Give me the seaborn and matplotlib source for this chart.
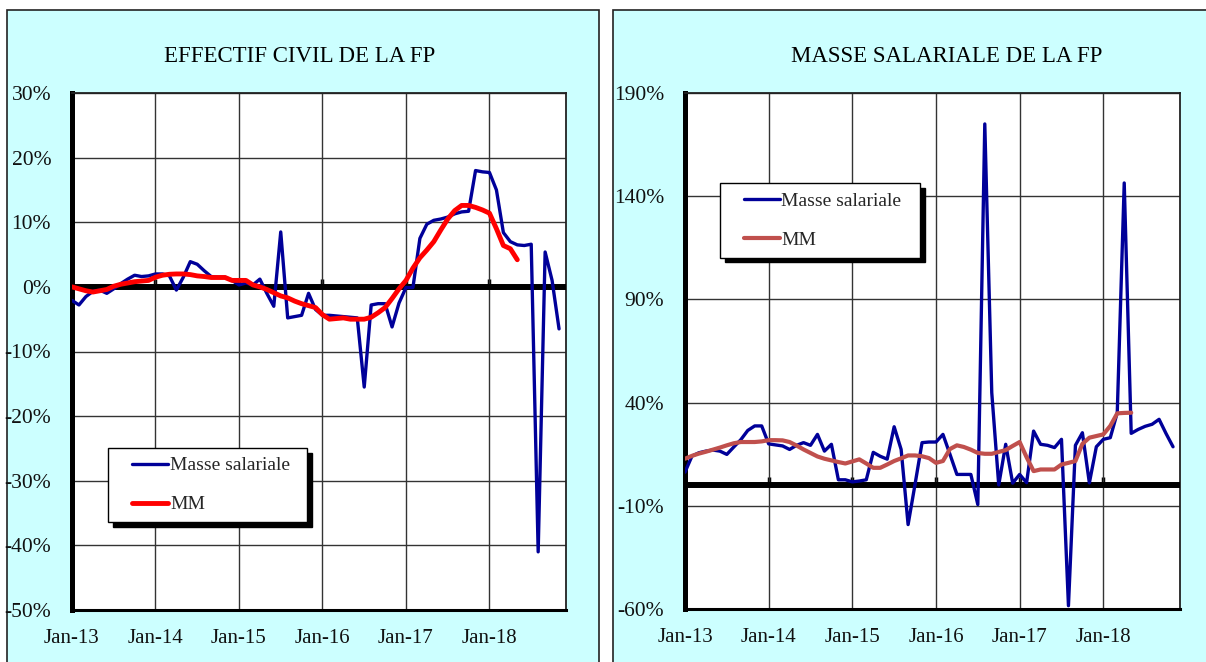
import numpy as np
import pandas as pd
import matplotlib
matplotlib.use("Agg")
import matplotlib.pyplot as plt
from matplotlib.patches import Rectangle
from matplotlib.legend_handler import HandlerLine2D
import seaborn as sns

# ---------------- data ----------------
tick_labels = ["Jan-13", "Jan-14", "Jan-15", "Jan-16", "Jan-17", "Jan-18"]

# Left chart: EFFECTIF CIVIL DE LA FP (monthly, Jan-13 .. Nov-18), in %
eff_serie = [-2.1, -2.8, -1.5, -0.7, -0.5, -1.0, -0.3, 0.5, 1.2, 1.8,
             1.6, 1.7, 2.0, 2.0, 1.7, -0.5, 1.5, 3.9, 3.5, 2.5,
             1.6, 1.5, 1.5, 1.0, 0.3, 0.6, 0.3, 1.2, -1.0, -3.0,
             8.5, -4.8, -4.6, -4.4, -1.0, -3.5, -4.4, -4.4, -4.5, -4.6,
             -4.7, -4.8, -15.5, -2.8, -2.6, -2.6, -6.2, -2.5, -0.1, -0.1,
             7.5, 9.7, 10.3, 10.5, 10.8, 11.3, 11.6, 11.7, 18.0, 17.8,
             17.7, 15.0, 8.4, 7.0, 6.5, 6.4, 6.6, -41.0, 5.4, 1.0,
             -6.5]
eff_mm = [0.0, -0.3, -0.6, -0.8, -0.6, -0.4, 0.1, 0.4, 0.6, 0.8,
          0.9, 1.0, 1.5, 1.8, 1.95, 2.0, 2.0, 1.9, 1.7, 1.6,
          1.45, 1.45, 1.45, 1.0, 1.0, 1.0, 0.3, 0.0, -0.4, -0.9,
          -1.4, -1.7, -2.2, -2.6, -2.9, -3.2, -4.3, -5.0, -4.9, -4.8,
          -5.0, -5.0, -5.0, -4.7, -4.0, -3.2, -1.8, -0.3, 1.0, 2.9,
          4.5, 5.7, 7.0, 8.8, 10.5, 11.8, 12.6, 12.6, 12.3, 11.9,
          11.4, 9.0, 6.4, 5.9, 4.2]

# Right chart: MASSE SALARIALE DE LA FP, in %
ms_serie = [6.3, 14.1, 15.7, 16.5, 17.0, 16.5, 14.9, 18.5, 22.0, 26.5,
            28.7, 28.7, 20.0, 19.5, 19.0, 17.3, 19.3, 20.6, 19.3, 24.6,
            16.5, 19.8, 2.6, 2.6, 1.6, 2.0, 2.6, 15.9, 14.0, 12.6,
            28.3, 17.3, -19.1, 0.5, 20.6, 20.9, 20.9, 24.6, 15.0, 5.2,
            5.2, 5.2, -9.4, 175.0, 44.8, 0.1, 19.8, 1.0, 5.2, 1.2,
            26.2, 19.8, 19.3, 18.2, 22.2, -58.4, 19.3, 25.4, 1.1, 18.6,
            22.2, 23.0, 35.1, 146.4, 25.1, 27.0, 28.5, 29.5, 31.9, 25.0,
            18.6]
ms_mm = [12.8, 14.2, 15.3, 16.2, 17.2, 18.2, 19.3, 20.3, 20.9, 20.9,
         20.9, 21.2, 21.8, 21.8, 21.7, 20.9, 19.2, 17.3, 15.6, 13.9,
         12.8, 12.0, 11.2, 10.5, 11.5, 12.5, 10.5, 8.4, 8.4, 10.0,
         11.7, 13.0, 14.4, 14.4, 14.0, 13.1, 10.8, 11.7, 17.5, 19.3,
         18.5, 17.2, 15.6, 15.2, 15.2, 16.1, 17.0, 19.0, 20.9, 13.5,
         6.8, 7.6, 7.6, 7.6, 10.0, 10.8, 11.7, 20.0, 23.0, 23.8,
         24.6, 28.7, 34.8, 35.0, 35.1]

left_yticks = [-50, -40, -30, -20, -10, 0, 10, 20, 30]
right_yticks = [-60, -10, 40, 90, 140, 190]

# ---------------- style ----------------
sns.set_theme(style="white")
plt.rcParams["font.family"] = ["Liberation Serif", "DejaVu Serif"]

W, H = 1206, 662
fig = plt.figure(figsize=(W / 100, H / 100), dpi=100, facecolor="white")

PANEL = "#CCFFFF"
BLUE = "#000099"
LEG_FS = 14


def fx(px):
    return px / W


def fy(py):
    return 1 - py / H


# panel backgrounds
fig.patches.append(Rectangle((fx(7), -0.05), fx(599 - 7), fy(10) + 0.05,
                             transform=fig.transFigure, facecolor=PANEL,
                             edgecolor="#222222", lw=1.2, zorder=-2))
fig.patches.append(Rectangle((fx(613), -0.05), fx(620), fy(10) + 0.05,
                             transform=fig.transFigure, facecolor=PANEL,
                             edgecolor="#222222", lw=1.2, zorder=-2))


def make_panel(rect, serie, mm, mm_color, mm_lw, yticks, title, title_x,
               legend_anchor):
    ax = fig.add_axes(rect)
    ax.set_facecolor("white")
    months = np.arange(len(serie))
    df_s = pd.DataFrame({"m": months, "v": serie})
    df_m = pd.DataFrame({"m": np.arange(len(mm)), "v": mm})
    sns.lineplot(data=df_s, x="m", y="v", ax=ax, color=BLUE, lw=2.4,
                 label="Masse salariale", zorder=4)
    sns.lineplot(data=df_m, x="m", y="v", ax=ax, color=mm_color, lw=mm_lw,
                 label="MM", zorder=5)
    ax.axhline(0, color="black", lw=4.3, zorder=3)

    xt = [12 * i for i in range(len(tick_labels))]
    ax.set_xlim(0, 71)
    ax.set_ylim(yticks[0], yticks[-1])
    ax.set_xticks(xt, tick_labels)
    ax.set_yticks(yticks, [f"{v}%" for v in yticks])
    ax.set_xlabel("")
    ax.set_ylabel("")
    ax.grid(True, color="#333333", lw=1.0)
    ax.set_axisbelow(True)
    ax.tick_params(axis="y", direction="in", length=5, width=3,
                   color="black", pad=15, labelsize=15.5, labelcolor="#111111")
    ax.tick_params(axis="x", length=0, pad=14, labelsize=15,
                   labelcolor="#111111")
    for s in ["top", "right"]:
        ax.spines[s].set_color("#222222")
        ax.spines[s].set_linewidth(1.3)
    ax.spines["left"].set_color("black")
    ax.spines["left"].set_linewidth(3.6)
    ax.spines["bottom"].set_color("black")
    ax.spines["bottom"].set_linewidth(2.2)

    # small tick stubs on the zero line, pointing upward
    frac0 = (0 - yticks[0]) / (yticks[-1] - yticks[0])
    sec = ax.secondary_xaxis(frac0)
    sec.set_xticks(xt, [""] * len(xt))
    sec.tick_params(direction="out" if frac0 > 0.5 else "in", length=6,
                    width=2.5, color="black")
    sec.spines["bottom"].set_visible(False)
    sec.spines["top"].set_visible(False)

    handles, labels = ax.get_legend_handles_labels()
    hmap = {h: HandlerLine2D(xpad=0.78) for h in handles}
    leg = ax.legend(handles, labels, handler_map=hmap,
                    loc="lower left", bbox_to_anchor=legend_anchor,
                    mode="expand",
                    frameon=True, fancybox=False, edgecolor="black",
                    facecolor="white", framealpha=1, fontsize=LEG_FS,
                    handlelength=2.63, handletextpad=0.1, borderpad=0.45,
                    labelspacing=1.1, borderaxespad=0,
                    shadow={"ox": 3.5, "oy": -3.5, "color": "black",
                            "alpha": 1})
    leg.get_frame().set_linewidth(1.0)
    leg.set_zorder(10)

    fig.text(fx(title_x), fy(56), title, ha="center", va="center",
             fontsize=16.5, color="black")
    return ax


make_panel([fx(72), fy(610), fx(566 - 72), fy(93) - fy(610)],
           eff_serie, eff_mm, "#FF0000", 3.5, left_yticks,
           "EFFECTIF CIVIL DE LA FP", 300, (0.073, 0.170, 0.403, 0.15))
make_panel([fx(685), fy(609), fx(1180 - 685), fy(93) - fy(609)],
           ms_serie, ms_mm, "#C0504D", 3.0, right_yticks,
           "MASSE SALARIALE DE LA FP", 947, (0.070, 0.681, 0.405, 0.15))

fig.savefig("out.png", dpi=100, facecolor="white")
